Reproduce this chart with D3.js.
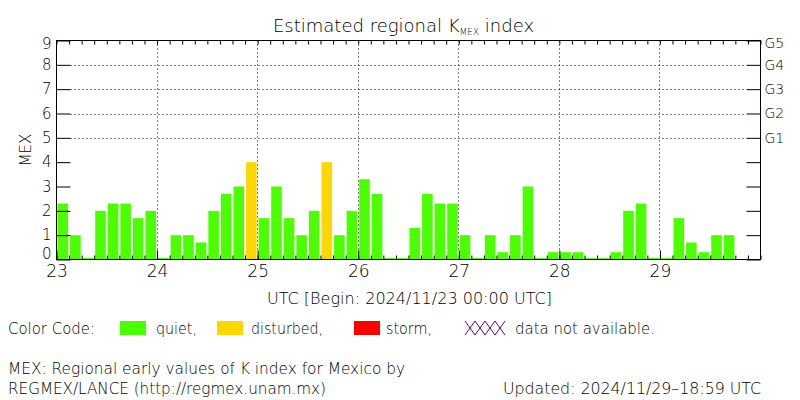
<!DOCTYPE html>
<html><head><meta charset="utf-8">
<script src="https://cdn.jsdelivr.net/npm/d3@7"></script>
<style>
body{margin:0;background:#fff;}
svg text{font-family:"DejaVu Sans",sans-serif;font-weight:200;fill:#000;}
</style></head>
<body><svg id="c" width="800" height="400"></svg>
<script>
// ---------- data ----------
const days = ["23","24","25","26","27","28","29"];
const slotsPerDay = 8;            // 3-hour intervals
const kValues = [
  2.3,1.0,0.0,2.0,2.3,2.3,1.7,2.0,   // 23
  0.0,1.0,1.0,0.7,2.0,2.7,3.0,4.0,   // 24
  1.7,3.0,1.7,1.0,2.0,4.0,1.0,2.0,   // 25
  3.3,2.7,0.0,0.0,1.3,2.7,2.3,2.3,   // 26
  1.0,0.0,1.0,0.3,1.0,3.0,0.0,0.3,   // 27
  0.3,0.3,0.0,0.0,0.3,2.0,2.3,0.0,   // 28
  0.0,1.7,0.7,0.3,1.0,1.0            // 29 (partial)
];
const yTicks = [0,1,2,3,4,5,6,7,8,9];
const gLevels = [5,6,7,8,9];
const gNames = ["G1","G2","G3","G4","G5"];
const gridLevels = [5,6,7,8];
const legendNames = ["quiet,","disturbed,","storm,"];
const legendColors = ["#4cff00","#ffd700","#ff0000"];
const thresholds = [4,5];          // disturbed >=4, storm >=5

// ---------- setup ----------
const svg = d3.select("#c");
const L = 56.5, R = 760.5, T = 40.5, B = 259.5;
const nSlots = days.length*slotsPerDay;
const x = d3.scaleLinear().domain([0,nSlots]).range([L,R]);
const y = d3.scaleLinear().domain([0,9]).range([B,T]);
const color = d3.scaleThreshold().domain(thresholds).range(legendColors);

// bars
svg.append("g").selectAll("rect").data(kValues).join("rect")
  .attr("x", (d,i)=>x(i)+1)
  .attr("width", (d,i)=>x(i+1)-x(i)-2)
  .attr("y", d=>Math.min(y(d), B-1.5))
  .attr("height", d=>B-0.5-Math.min(y(d), B-1.5))
  .attr("fill", d=>color(d));

// dotted grid
svg.append("g").selectAll("line").data(gridLevels).join("line")
  .attr("x1", L+14).attr("x2", R-14)
  .attr("y1", d=>Math.round(y(d))+0.5).attr("y2", d=>Math.round(y(d))+0.5)
  .attr("stroke","#000").attr("stroke-dasharray","1,3");
svg.append("g").selectAll("line").data(d3.range(1,days.length)).join("line")
  .attr("x1", d=>Math.round(x(d*slotsPerDay)-0.5)+0.5).attr("x2", d=>Math.round(x(d*slotsPerDay)-0.5)+0.5)
  .attr("y1", T).attr("y2", B-9)
  .attr("stroke","#000").attr("stroke-dasharray","1,3");

// axes
function clean(g){ g.select(".domain").remove(); g.selectAll("line").attr("stroke","#000"); }
const leftAx = svg.append("g").attr("transform",`translate(${L},0)`)
  .call(d3.axisLeft(y).tickValues(yTicks).tickSizeInner(-14).tickSizeOuter(0).tickPadding(5));
clean(leftAx);
leftAx.selectAll("text").style("font-size","15px").style("font-family","DejaVu Sans")
  .attr("dy", d=> d===0 ? "-0.08em" : d===9 ? "0.52em" : "0.32em");

const rightAx = svg.append("g").attr("transform",`translate(${R},0)`)
  .call(d3.axisRight(y).tickValues(yTicks).tickSizeInner(-14).tickSizeOuter(0).tickPadding(4)
    .tickFormat(d=>{const i=gLevels.indexOf(d); return i>=0 ? gNames[i] : "";}));
clean(rightAx);
rightAx.selectAll("text").style("font-size","14px").style("font-family","DejaVu Sans")
  .attr("dy", d=> d===9 ? "0.52em" : "0.32em");

const botMinor = svg.append("g").attr("transform",`translate(0,${B})`)
  .call(d3.axisBottom(x).tickValues(d3.range(0,nSlots+1)).tickSizeInner(-4).tickSizeOuter(0).tickFormat(""));
clean(botMinor);
const topMinor = svg.append("g").attr("transform",`translate(0,${T})`)
  .call(d3.axisTop(x).tickValues(d3.range(0,nSlots+1)).tickSizeInner(-4).tickSizeOuter(0).tickFormat(""));
clean(topMinor);
const botDays = svg.append("g").attr("transform",`translate(0,${B})`)
  .call(d3.axisBottom(x).tickValues(days.map((d,i)=>i*slotsPerDay)).tickSizeInner(-9).tickSizeOuter(0).tickPadding(5)
    .tickFormat((d,i)=>days[i]));
clean(botDays);
botDays.selectAll("text").style("font-size","17px").style("font-family","DejaVu Sans");

// frame
svg.append("rect").attr("x",L).attr("y",T).attr("width",R-L).attr("height",B-T)
  .attr("fill","none").attr("stroke","#000");

// title
const title = svg.append("text").attr("x",273).attr("y",32).style("font-size","18px");
title.append("tspan").text("Estimated regional K");
title.append("tspan").attr("dy",3).style("font-size","9px").text("MEX");
title.append("tspan").attr("dy",-3).text(" index");

// y label
svg.append("text").attr("transform","translate(31,150) rotate(-90)")
  .attr("text-anchor","middle").style("font-size","15px").text("MEX");

// x title
svg.append("text").attr("x",267).attr("y",304).attr("textLength",285).attr("lengthAdjust","spacingAndGlyphs")
  .style("font-size","15px").text("UTC [Begin: 2024/11/23 00:00 UTC]");

// legend
const ly = 334;
svg.append("text").attr("x",8).attr("y",ly).attr("textLength",87).attr("lengthAdjust","spacingAndGlyphs")
  .style("font-size","15px").text("Color Code:");
const sw = [120,217,354], tx = [156,251,386], tw = [41,72,46];
legendNames.forEach((n,i)=>{
  svg.append("rect").attr("x",sw[i]).attr("y",321).attr("width",26).attr("height",14).attr("fill",legendColors[i]);
  svg.append("text").attr("x",tx[i]).attr("y",ly).attr("textLength",tw[i]).attr("lengthAdjust","spacingAndGlyphs")
    .style("font-size","15px").text(n);
});
const xs = d3.range(4).map(i=>465+i*10);
svg.append("g").selectAll("path").data(xs).join("path")
  .attr("d", d=>`M${d},321L${d+10},335M${d},335L${d+10},321`)
  .attr("stroke","#660099").attr("fill","none").attr("stroke-width",1);
svg.append("text").attr("x",515).attr("y",ly).attr("textLength",140).attr("lengthAdjust","spacingAndGlyphs")
  .style("font-size","15px").text("data not available.");

// footer
svg.append("text").attr("x",8).attr("y",374).attr("textLength",397).attr("lengthAdjust","spacingAndGlyphs")
  .style("font-size","15px").text("MEX: Regional early values of K index for Mexico by");
svg.append("text").attr("x",8).attr("y",394).attr("textLength",318).attr("lengthAdjust","spacingAndGlyphs")
  .style("font-size","15px").text("REGMEX/LANCE (http://regmex.unam.mx)");
svg.append("text").attr("x",503).attr("y",394).attr("textLength",258).attr("lengthAdjust","spacingAndGlyphs")
  .style("font-size","15px").text("Updated: 2024/11/29\u201318:59 UTC");
</script></body></html>
